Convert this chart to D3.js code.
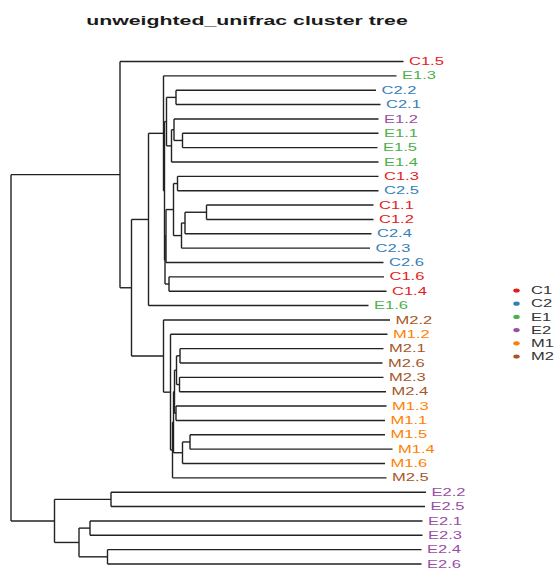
<!DOCTYPE html>
<html>
<head>
<meta charset="utf-8">
<script src="https://cdn.jsdelivr.net/npm/d3@7"></script>
<style>
  body { margin: 0; background: #fff; }
  text { font-family: "Liberation Sans", Arial, sans-serif; }
</style>
</head>
<body>
<script>
var w = 557;
var h = 569;

// tree: node ids, parent ids, distance from root
var nodeIds = [
  'root', 'A', 'Z',
  'C1.5', 'B', 'D', 'V', 'F', 'E1.6', 'E1.3', 'P', 'K', 'Q',
  'J', 'G', 'C2.2', 'C2.1', 'H', 'E1.4', 'E1.2', 'I', 'E1.1', 'E1.5',
  'S', 'T', 'N', 'C2.6', 'L', 'O', 'C1.3', 'C2.5', 'O2', 'C2.3', 'M', 'C2.4',
  'C1.1', 'C1.2', 'C1.6', 'C1.4',
  'M2.2', 'W', 'M1.2', 'X', 'Y', 'M2.5', 'Y1', 'Y2', 'Y1a', 'YC', 'YA', 'YB',
  'M2.1', 'M2.6', 'M2.3', 'M2.4', 'M1.3', 'M1.1', 'Y2a', 'M1.6', 'M1.5', 'M1.4',
  'Z1', 'Z2', 'E2.2', 'E2.5', 'Z2a', 'Z2b', 'E2.1', 'E2.3', 'E2.4', 'E2.6'
];
var nodeParents = [
  '', 'root', 'root',
  'A', 'A', 'B', 'B', 'D', 'D', 'F', 'F', 'P', 'P',
  'K', 'K', 'J', 'J', 'G', 'G', 'H', 'H', 'I', 'I',
  'Q', 'Q', 'S', 'S', 'N', 'N', 'L', 'L', 'O', 'O', 'O2', 'O2',
  'M', 'M', 'T', 'T',
  'V', 'V', 'W', 'W', 'X', 'X', 'Y', 'Y', 'Y1', 'Y1', 'Y1a', 'Y1a',
  'YA', 'YA', 'YB', 'YB', 'YC', 'YC', 'Y2', 'Y2', 'Y2a', 'Y2a',
  'Z', 'Z', 'Z1', 'Z1', 'Z2', 'Z2', 'Z2a', 'Z2a', 'Z2b', 'Z2b'
];
var nodeDepths = [
  0, 0.218, 0.087,
  0.785, 0.241, 0.275, 0.305, 0.305, 0.715, 0.771, 0.307, 0.311, 0.308,
  0.330, 0.321, 0.730, 0.739, 0.326, 0.735, 0.735, 0.343, 0.735, 0.733,
  0.310, 0.316, 0.325, 0.745, 0.333, 0.341, 0.735, 0.735, 0.348, 0.718, 0.391, 0.721,
  0.725, 0.725, 0.746, 0.751,
  0.758, 0.319, 0.753, 0.323, 0.325, 0.751, 0.327, 0.343, 0.331, 0.330, 0.338, 0.337,
  0.745, 0.743, 0.745, 0.750, 0.751, 0.748, 0.358, 0.748, 0.748, 0.763,
  0.200, 0.136, 0.830, 0.828, 0.158, 0.193, 0.823, 0.823, 0.821, 0.821
];

// sample -> group (E1.2 is coloured as E2 in the original)
var sampleNames = [
  'C1.1', 'C1.2', 'C1.3', 'C1.4', 'C1.5', 'C1.6',
  'C2.1', 'C2.2', 'C2.3', 'C2.4', 'C2.5', 'C2.6',
  'E1.1', 'E1.2', 'E1.3', 'E1.4', 'E1.5', 'E1.6',
  'E2.1', 'E2.2', 'E2.3', 'E2.4', 'E2.5', 'E2.6',
  'M1.1', 'M1.2', 'M1.3', 'M1.4', 'M1.5', 'M1.6',
  'M2.1', 'M2.2', 'M2.3', 'M2.4', 'M2.5', 'M2.6'
];
var sampleGroups = [
  'C1', 'C1', 'C1', 'C1', 'C1', 'C1',
  'C2', 'C2', 'C2', 'C2', 'C2', 'C2',
  'E1', 'E2', 'E1', 'E1', 'E1', 'E1',
  'E2', 'E2', 'E2', 'E2', 'E2', 'E2',
  'M1', 'M1', 'M1', 'M1', 'M1', 'M1',
  'M2', 'M2', 'M2', 'M2', 'M2', 'M2'
];

var groups = ['C1', 'C2', 'E1', 'E2', 'M1', 'M2'];
var groupColors = ['#E41A1C', '#377EB8', '#4DAF4A', '#984EA3', '#FF7F00', '#A65628'];

var table = nodeIds.map(function(id, i) {
  return {id: id, parent: nodeParents[i] || null, depth: nodeDepths[i]};
});

var root = d3.stratify()
  .id(function(d) { return d.id; })
  .parentId(function(d) { return d.parent; })(table);

var leafNames = root.leaves().map(function(d) { return d.id; });
var groupOf = d3.scaleOrdinal().domain(sampleNames).range(sampleGroups);

var x = d3.scaleLinear().domain([0, 1]).range([11, 511]);
var y = d3.scalePoint().domain(leafNames).range([61.5, 564]);
var color = d3.scaleOrdinal().domain(groups).range(groupColors);

root.eachAfter(function(d) {
  d.px = x(d.data.depth);
  if (d.children) {
    d.py = d3.mean(d.children, function(c) { return c.py; });
  } else {
    d.py = y(d.id);
  }
});

var svg = d3.select('body').append('svg')
  .attr('width', w)
  .attr('height', h);

svg.append('text')
  .attr('transform', 'translate(247,25) scale(1.6,1)')
  .attr('text-anchor', 'middle')
  .style('font-size', '13.3px')
  .style('font-weight', 'bold')
  .style('fill', '#1a1a1a')
  .text('unweighted_unifrac cluster tree');

var g = svg.append('g')
  .attr('fill', 'none')
  .attr('stroke', '#222')
  .attr('stroke-width', 1.4);

// horizontal branches
g.selectAll('path.hbranch')
  .data(root.descendants().slice(1))
  .enter().append('path')
  .attr('class', 'hbranch')
  .attr('d', function(d) { return 'M' + d.parent.px + ',' + d.py + 'H' + d.px; });

// vertical connectors
g.selectAll('path.vbranch')
  .data(root.descendants().filter(function(d) { return d.children; }))
  .enter().append('path')
  .attr('class', 'vbranch')
  .attr('d', function(d) {
    var ys = d.children.map(function(c) { return c.py; });
    return 'M' + d.px + ',' + d3.min(ys) + 'V' + d3.max(ys);
  });

svg.append('g').selectAll('text')
  .data(root.leaves())
  .enter().append('text')
  .attr('transform', function(d) { return 'translate(' + (d.px + 5.5) + ',' + d.py + ') scale(1.65,1)'; })
  .attr('dy', '0.36em')
  .style('font-size', '10px')
  .style('fill', function(d) { return color(groupOf(d.id)); })
  .text(function(d) { return d.id; });

var ly = d3.scalePoint().domain(groups).range([290.5, 356.5]);

var legend = svg.append('g').selectAll('g')
  .data(groups)
  .enter().append('g')
  .attr('transform', function(d) { return 'translate(516.5,' + ly(d) + ')'; });

legend.append('ellipse')
  .attr('rx', 3.2)
  .attr('ry', 2.1)
  .style('fill', function(d) { return color(d); });

legend.append('text')
  .attr('transform', 'translate(14.5,0) scale(1.65,1)')
  .attr('dy', '0.36em')
  .style('font-size', '10px')
  .style('fill', '#333')
  .text(function(d) { return d; });
</script>
</body>
</html>
